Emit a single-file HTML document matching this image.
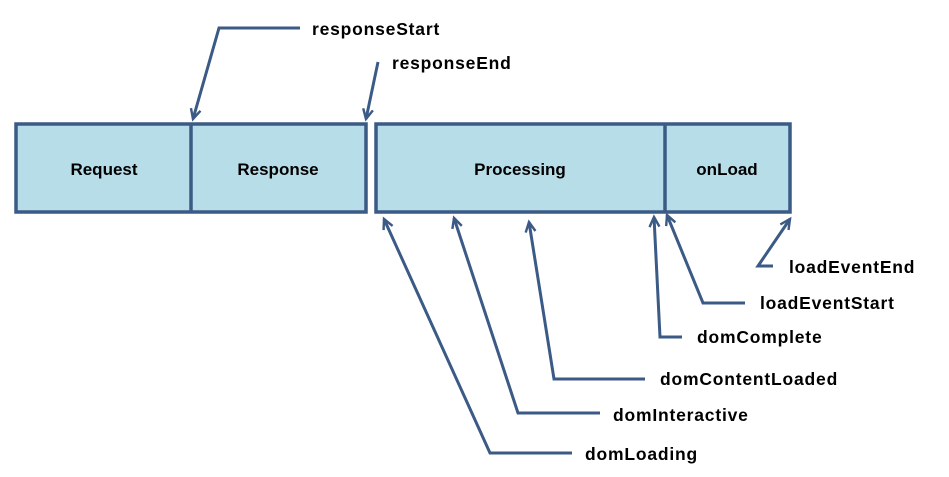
<!DOCTYPE html>
<html><head><style>body{margin:0;background:#fff}svg{display:block}</style></head><body>
<svg width="949" height="477" viewBox="0 0 949 477" xmlns="http://www.w3.org/2000/svg">
<defs><marker id="a" viewBox="0 0 10 10" refX="9" refY="5" markerWidth="11" markerHeight="11" orient="auto" markerUnits="userSpaceOnUse" style="overflow:visible"><path d="M0,0.5 L9,5 L0,9.5" fill="none" stroke="#3b5a85" stroke-width="2.2"/></marker></defs>
<g fill="#b7dde8" stroke="#3b5a85" stroke-width="3.5">
<rect x="16" y="124" width="350" height="88"/>
<line x1="191" y1="124" x2="191" y2="212"/>
<rect x="376" y="124" width="414" height="88"/>
<line x1="665" y1="124" x2="665" y2="212"/>
</g>
<g font-family="Liberation Sans, sans-serif" font-weight="bold" font-size="17" fill="#000" text-anchor="middle">
<text x="104" y="175">Request</text>
<text x="278" y="175">Response</text>
<text x="520" y="175">Processing</text>
<text x="727" y="175">onLoad</text>
</g>
<g fill="none" stroke="#3b5a85" stroke-width="3" stroke-linejoin="miter">
<polyline points="300,28 219,28 193,119" marker-end="url(#a)"/>
<polyline points="378,62 366,119" marker-end="url(#a)"/>
<polyline points="773,266 758,266 790,219" marker-end="url(#a)"/>
<polyline points="745,303 703,303 667,215" marker-end="url(#a)"/>
<polyline points="682,337 660,337 654,217" marker-end="url(#a)"/>
<polyline points="645,379 554,379 529,222" marker-end="url(#a)"/>
<polyline points="600,413 518,413 454,218" marker-end="url(#a)"/>
<polyline points="572,453 490,453 384,219" marker-end="url(#a)"/>
</g>
<g font-family="Liberation Sans, sans-serif" font-weight="bold" font-size="17.5" letter-spacing="0.8" fill="#000">
<text x="312" y="35">responseStart</text>
<text x="392" y="69">responseEnd</text>
<text x="789" y="273">loadEventEnd</text>
<text x="760" y="309">loadEventStart</text>
<text x="697" y="343">domComplete</text>
<text x="660" y="385">domContentLoaded</text>
<text x="613" y="421">domInteractive</text>
<text x="585" y="460">domLoading</text>
</g>
</svg>
</body></html>
